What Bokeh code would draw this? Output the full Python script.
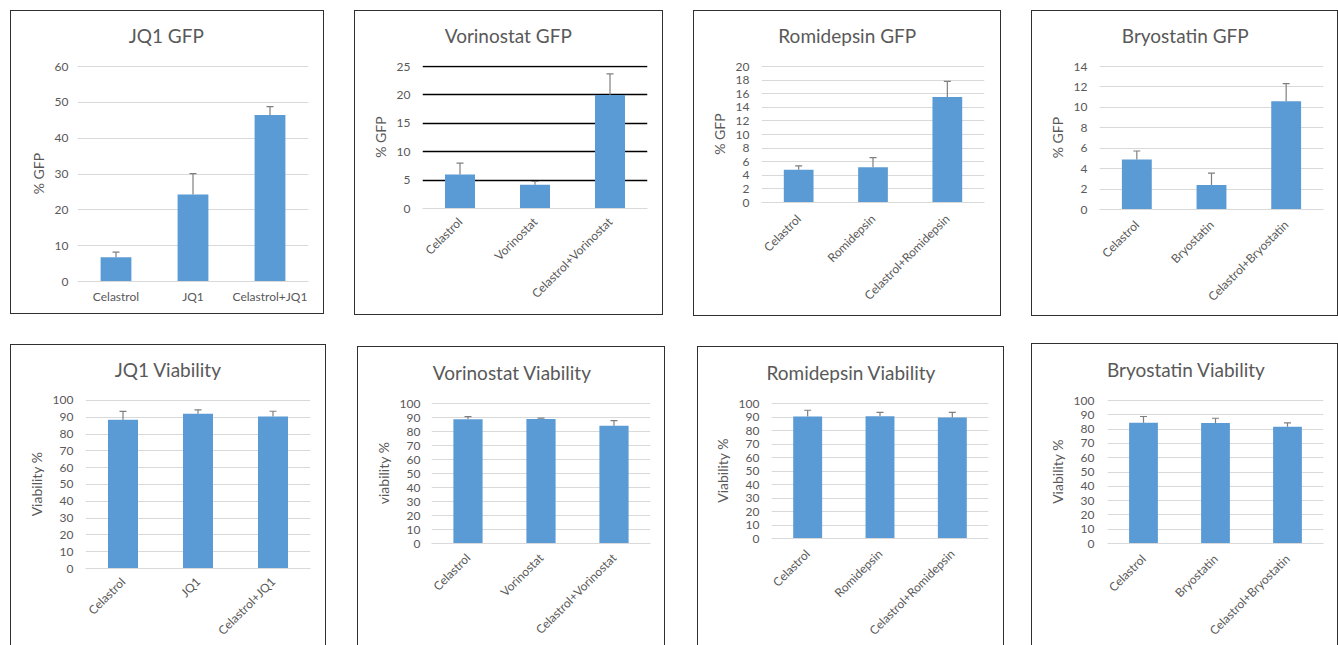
import math

from bokeh.embed import file_html
from bokeh.layouts import column, row
from bokeh.models import (ColumnDataSource, FixedTicker, LinearAxis, Range1d,
                          Spacer, TeeHead, Whisker)
from bokeh.plotting import figure
from bokeh.resources import INLINE

# ---- treatment groups -------------------------------------------------------
jq1_groups = ["Celastrol", "JQ1", "Celastrol+JQ1"]
vor_groups = ["Celastrol", "Vorinostat", "Celastrol+Vorinostat"]
rom_groups = ["Celastrol", "Romidepsin", "Celastrol+Romidepsin"]
bry_groups = ["Celastrol", "Bryostatin", "Celastrol+Bryostatin"]

# ---- % GFP (mean, SD) --------------------------------------------------------
jq1_gfp = [6.8, 24.3, 46.5]
jq1_gfp_err = [1.4, 5.8, 2.3]
vor_gfp = [6.0, 4.2, 20.0]
vor_gfp_err = [2.0, 0.55, 3.7]
rom_gfp = [4.8, 5.2, 15.5]
rom_gfp_err = [0.6, 1.4, 2.3]
bry_gfp = [4.9, 2.4, 10.6]
bry_gfp_err = [0.83, 1.17, 1.73]

# ---- viability % (mean, SD) ----------------------------------------------------
jq1_via = [88.6, 92.1, 90.4]
jq1_via_err = [4.9, 2.3, 3.2]
vor_via = [88.8, 89.0, 84.2]
vor_via_err = [1.9, 0.5, 3.6]
rom_via = [90.3, 90.5, 89.6]
rom_via_err = [4.7, 3.0, 3.9]
bry_via = [84.5, 84.3, 81.7]
bry_via_err = [4.3, 3.3, 2.6]

BAR = "#5B9BD5"
TEXT = "#595959"
GRID = "#D9D9D9"
ERR = "#7F7F7F"
FONT = "Lato"

# panel box (left, top, width, height) and plot frame (x0, y0, x1, y1) in page pixels;
# tc is the centre of the panel heading
panels = [
    dict(title="JQ1 GFP", cats=jq1_groups, vals=jq1_gfp, errs=jq1_gfp_err,
         ymax=60, step=10, ylabel="% GFP", box=(10, 10, 314, 304),
         frame=(77, 66, 306, 279), tc=(165, 36), rot=False, dark=False,
         closed=True, tick_off=9, cat_off=7),
    dict(title="Vorinostat GFP", cats=vor_groups, vals=vor_gfp, errs=vor_gfp_err,
         ymax=25, step=5, ylabel="% GFP", box=(354, 10, 309, 305),
         frame=(422, 66, 645, 206), tc=(507, 36), rot=True, dark=True,
         closed=True, tick_off=12, cat_off=11),
    dict(title="Romidepsin GFP", cats=rom_groups, vals=rom_gfp, errs=rom_gfp_err,
         ymax=20, step=2, ylabel="% GFP", box=(693, 10, 308, 306),
         frame=(761, 66, 982, 200), tc=(846, 36), rot=True, dark=False,
         closed=True, tick_off=12, cat_off=14),
    dict(title="Bryostatin GFP", cats=bry_groups, vals=bry_gfp, errs=bry_gfp_err,
         ymax=14, step=2, ylabel="% GFP", box=(1031, 10, 307, 306),
         frame=(1099, 66, 1321, 207), tc=(1184, 36), rot=True, dark=False,
         closed=True, tick_off=12, cat_off=13),
    dict(title="JQ1 Viability", cats=jq1_groups, vals=jq1_via, errs=jq1_via_err,
         ymax=100, step=10, ylabel="Viability %", box=(10, 344, 316, 301),
         frame=(85, 400, 308, 569), tc=(167, 370), rot=True, dark=False,
         closed=False, tick_off=12, cat_off=11),
    dict(title="Vorinostat Viability", cats=vor_groups, vals=vor_via, errs=vor_via_err,
         ymax=100, step=10, ylabel="viability %", box=(357, 346, 308, 299),
         frame=(431, 403, 648, 542), tc=(511, 371), rot=True, dark=False,
         closed=False, tick_off=11, cat_off=12),
    dict(title="Romidepsin Viability", cats=rom_groups, vals=rom_via, errs=rom_via_err,
         ymax=100, step=10, ylabel="Viability %", box=(697, 346, 307, 299),
         frame=(771, 403, 986, 537), tc=(850, 371), rot=True, dark=False,
         closed=False, tick_off=12, cat_off=13),
    dict(title="Bryostatin Viability", cats=bry_groups, vals=bry_via, errs=bry_via_err,
         ymax=100, step=10, ylabel="Viability %", box=(1031, 343, 307, 302),
         frame=(1107, 400, 1321, 542), tc=(1185, 371), rot=True, dark=False,
         closed=False, tick_off=13, cat_off=13),
]


def style_quiet(axis):
    axis.major_tick_line_color = None
    axis.minor_tick_line_color = None
    axis.major_tick_in = 0
    axis.major_tick_out = 0
    axis.minor_tick_in = 0
    axis.minor_tick_out = 0


def make_panel(s):
    bx, by, bw, bh = s["box"]
    fx0, fy0, fx1, fy1 = s["frame"]
    ix, iy = bx + 1, by + 1
    iw = bw - 2
    ih = bh - 2 if s["closed"] else bh - 1
    top = fy0 - 1                       # one spare pixel keeps the top gridline inside
    ymax = s["ymax"]
    yend = ymax + ymax / (fy1 - fy0)
    cats = s["cats"]
    slots = [i + 0.5 for i in range(len(cats))]   # one unit per group

    p = figure(width=bw, height=bh,
               x_range=Range1d(0, len(cats)),
               y_range=Range1d(0, yend),
               output_backend="svg", toolbar_location=None,
               min_border_left=fx0 - ix, min_border_right=ix + iw - fx1,
               min_border_top=top - iy, min_border_bottom=iy + ih - fy1,
               background_fill_color="white", border_fill_color="white",
               outline_line_color=None)
    border = "1px solid #303030"
    if s["closed"]:
        p.styles = {"border": border}
    else:
        p.styles = {"border-left": border, "border-top": border, "border-right": border}

    src = ColumnDataSource(dict(x=slots, val=s["vals"],
                                hi=[v + e for v, e in zip(s["vals"], s["errs"])]))

    p.vbar(x="x", top="val", width=0.4, source=src, fill_color=BAR, line_color=None)
    p.add_layout(Whisker(base="x", lower="val", upper="hi", source=src,
                         line_color=ERR, line_width=1.2,
                         upper_head=TeeHead(size=7, line_color=ERR, line_width=1.2),
                         lower_head=None, level="overlay"))

    ticks = list(range(0, ymax + 1, s["step"]))
    p.yaxis.ticker = FixedTicker(ticks=ticks)
    p.ygrid.ticker = FixedTicker(ticks=[t for t in ticks if t > 0] if s["dark"] else ticks)
    p.ygrid.grid_line_color = "black" if s["dark"] else GRID
    p.ygrid.grid_line_width = 1.3 if s["dark"] else 1
    p.xgrid.visible = False

    style_quiet(p.yaxis[0])
    p.yaxis.axis_line_color = None
    p.yaxis.major_label_text_font = FONT
    p.yaxis.major_label_text_font_size = "12px"
    p.yaxis.major_label_text_color = TEXT
    p.yaxis.major_label_standoff = s["tick_off"]
    p.yaxis.axis_label = s["ylabel"]
    p.yaxis.axis_label_text_font = FONT
    p.yaxis.axis_label_text_font_size = "14px"
    p.yaxis.axis_label_text_font_style = "normal"
    p.yaxis.axis_label_text_color = TEXT
    p.yaxis.axis_label_standoff = 5

    style_quiet(p.xaxis[0])
    p.xaxis.ticker = FixedTicker(ticks=slots)
    p.xaxis.major_label_overrides = dict(zip(slots, cats))
    p.xaxis.axis_line_color = GRID
    p.xaxis.major_label_text_font = FONT
    p.xaxis.major_label_text_font_size = "12px"
    p.xaxis.major_label_text_color = TEXT
    p.xaxis.major_label_standoff = s["cat_off"]
    if s["rot"]:
        p.xaxis.major_label_orientation = math.pi / 4

    # panel heading: a single labelled position above the frame
    tx, ty = s["tc"]
    p.extra_x_ranges = {"heading": Range1d(0, fx1 - fx0)}
    pos = tx - fx0
    heading = LinearAxis(x_range_name="heading", ticker=FixedTicker(ticks=[pos]),
                         major_label_overrides={pos: s["title"]})
    style_quiet(heading)
    heading.axis_line_color = None
    heading.major_label_text_font = FONT
    heading.major_label_text_font_style = "normal"
    heading.major_label_text_font_size = "19px"
    heading.major_label_text_color = TEXT
    heading.major_label_standoff = 19
    p.add_layout(heading, "above")
    return p


figs = [make_panel(s) for s in panels]


def strip(specs, figs_, top):
    items = []
    cursor = 0
    for s, f in zip(specs, figs_):
        bx, by, bw, bh = s["box"]
        if bx - cursor > 0:
            items.append(Spacer(width=bx - cursor, height=1))
        dy = by - top
        items.append(column(Spacer(width=1, height=dy), f) if dy > 0 else column(f))
        cursor = bx + bw
    return row(*items)


row1 = strip(panels[:4], figs[:4], 10)
row2 = strip(panels[4:], figs[4:], 343)
page = column(Spacer(width=1, height=10), row1, Spacer(width=1, height=343 - 316), row2)

open("out.html", "w").write(file_html(page, INLINE))
